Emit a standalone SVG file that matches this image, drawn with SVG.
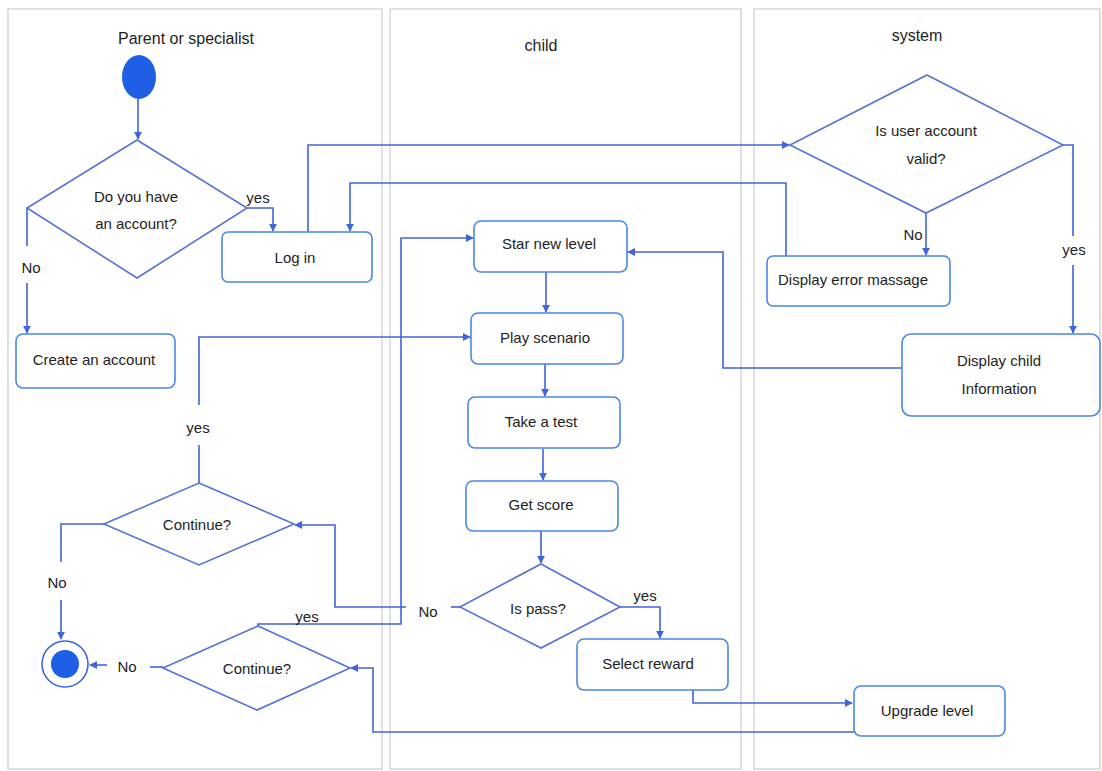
<svg xmlns="http://www.w3.org/2000/svg" width="1102" height="771" viewBox="0 0 1102 771">
  <style>
    text { font-family: "Liberation Sans", Arial, sans-serif; fill: #1e1e1e; font-size: 15px; text-anchor: middle; }
    .title { font-size: 16px; }
    .lane { fill: #ffffff; stroke: #d6d6d6; stroke-width: 1.5; }
    .box { fill: #ffffff; stroke: #4a86e4; stroke-width: 1.6; }
    .dia { fill: #ffffff; stroke: #5472d8; stroke-width: 1.6; }
    .conn { fill: none; stroke: #3f64dc; stroke-width: 1.6; }
  </style>
  <defs>
    <marker id="arrow" viewBox="0 0 10 10" refX="9" refY="5" markerWidth="8" markerHeight="8" markerUnits="userSpaceOnUse" orient="auto">
      <path d="M0,0 L10,5 L0,10 z" fill="#3f64dc"/>
    </marker>
  </defs>

  <rect width="1102" height="771" fill="#ffffff"/>

  <!-- swimlanes -->
  <g id="lanes">
    <rect class="lane" x="8" y="9" width="374" height="760"/>
    <rect class="lane" x="390" y="9" width="351" height="760"/>
    <rect class="lane" x="754" y="9" width="346" height="760"/>
    <text class="title" x="186" y="44">Parent or specialist</text>
    <text class="title" x="541" y="51">child</text>
    <text class="title" x="917" y="41">system</text>
  </g>

  <!-- connectors -->
  <g id="connectors">
    <path class="conn" d="M138,99 L138,139" marker-end="url(#arrow)"/>
    <!-- has account: yes -->
    <path class="conn" d="M247,208 L273,208 L273,231" marker-end="url(#arrow)"/>
    <!-- has account: no -->
    <path class="conn" d="M27,208 L27,246"/>
    <path class="conn" d="M27,283 L27,333" marker-end="url(#arrow)"/>
    <!-- log in to validation -->
    <path class="conn" d="M308,232 L308,145 L789,145" marker-end="url(#arrow)"/>
    <!-- error back to log in -->
    <path class="conn" d="M786,256 L786,183 L350,183 L350,231" marker-end="url(#arrow)"/>
    <!-- validation: no -->
    <path class="conn" d="M926,213 L926,255" marker-end="url(#arrow)"/>
    <!-- validation: yes -->
    <path class="conn" d="M1063,145 L1073,145 L1073,236"/>
    <path class="conn" d="M1073,265 L1073,333" marker-end="url(#arrow)"/>
    <!-- child info to new level -->
    <path class="conn" d="M902,368 L723,368 L723,252 L628,252" marker-end="url(#arrow)"/>
    <!-- child sequence -->
    <path class="conn" d="M546,272 L546,312" marker-end="url(#arrow)"/>
    <path class="conn" d="M545,364 L545,396" marker-end="url(#arrow)"/>
    <path class="conn" d="M543,449 L543,480" marker-end="url(#arrow)"/>
    <path class="conn" d="M541,531 L541,563" marker-end="url(#arrow)"/>
    <!-- pass: yes -->
    <path class="conn" d="M620,607 L660,607 L660,638" marker-end="url(#arrow)"/>
    <!-- pass: no -->
    <path class="conn" d="M460,607 L451,607"/>
    <path class="conn" d="M406,607 L335,607 L335,525 L295,525" marker-end="url(#arrow)"/>
    <!-- reward to upgrade -->
    <path class="conn" d="M693,690 L693,703 L852,703" marker-end="url(#arrow)"/>
    <!-- upgrade to continue -->
    <path class="conn" d="M854,732 L373,732 L373,668 L351,668" marker-end="url(#arrow)"/>
    <!-- continue (upper): yes -->
    <path class="conn" d="M199,483 L199,445"/>
    <path class="conn" d="M199,405 L199,337 L470,337" marker-end="url(#arrow)"/>
    <!-- continue (upper): no -->
    <path class="conn" d="M104,524 L61,524 L61,562"/>
    <path class="conn" d="M61,600 L61,639" marker-end="url(#arrow)"/>
    <!-- continue (lower): yes -->
    <path class="conn" d="M258,626 L258,624 L401,624 L401,238 L473,238" marker-end="url(#arrow)"/>
    <!-- continue (lower): no -->
    <path class="conn" d="M163,667 L150,667"/>
    <path class="conn" d="M107,665 L90,665" marker-end="url(#arrow)"/>
  </g>

  <!-- connector labels -->
  <g id="labels">
    <text x="258" y="203">yes</text>
    <text x="31" y="273">No</text>
    <text x="913" y="240">No</text>
    <text x="1074" y="255">yes</text>
    <text x="645" y="601">yes</text>
    <text x="428" y="617">No</text>
    <text x="307" y="622">yes</text>
    <text x="198" y="433">yes</text>
    <text x="57" y="588">No</text>
    <text x="127" y="672">No</text>
  </g>

  <g id="start">
    <ellipse cx="139" cy="77" rx="17" ry="22" fill="#1f5fe6"/>
  </g>

  <g id="has-account">
    <polygon class="dia" points="137,140 247,208 137,278 27,208"/>
    <text x="136" y="202">Do you have</text>
    <text x="136" y="229">an account?</text>
  </g>

  <g id="log-in">
    <rect class="box" x="222" y="232" width="150" height="50" rx="6"/>
    <text x="295" y="263">Log in</text>
  </g>

  <g id="create-account">
    <rect class="box" x="16" y="334" width="159" height="54" rx="7"/>
    <text x="94" y="365">Create an account</text>
  </g>

  <g id="account-valid">
    <polygon class="dia" points="927,75 1063,145 926,213 790,145"/>
    <text x="926" y="136">Is user account</text>
    <text x="926" y="164">valid?</text>
  </g>

  <g id="error-message">
    <rect class="box" x="767" y="256" width="183" height="50" rx="6"/>
    <text x="853" y="285">Display error massage</text>
  </g>

  <g id="child-info">
    <rect class="box" x="902" y="334" width="198" height="82" rx="9"/>
    <text x="999" y="366">Display child</text>
    <text x="999" y="394">Information</text>
  </g>

  <g id="new-level">
    <rect class="box" x="474" y="221" width="153" height="51" rx="7"/>
    <text x="549" y="249">Star new level</text>
  </g>

  <g id="play-scenario">
    <rect class="box" x="471" y="313" width="152" height="51" rx="7"/>
    <text x="545" y="343">Play scenario</text>
  </g>

  <g id="take-test">
    <rect class="box" x="468" y="397" width="152" height="51" rx="7"/>
    <text x="541" y="427">Take a test</text>
  </g>

  <g id="get-score">
    <rect class="box" x="466" y="481" width="152" height="50" rx="7"/>
    <text x="541" y="510">Get score</text>
  </g>

  <g id="is-pass">
    <polygon class="dia" points="541,564 620,607 541,648 460,607"/>
    <text x="538" y="614">Is pass?</text>
  </g>

  <g id="select-reward">
    <rect class="box" x="577" y="639" width="151" height="51" rx="7"/>
    <text x="648" y="669">Select reward</text>
  </g>

  <g id="upgrade-level">
    <rect class="box" x="854" y="686" width="151" height="50" rx="7"/>
    <text x="927" y="716">Upgrade level</text>
  </g>

  <g id="continue-upper">
    <polygon class="dia" points="199,483 294,524 199,565 104,524"/>
    <text x="197" y="530">Continue?</text>
  </g>

  <g id="continue-lower">
    <polygon class="dia" points="258,626 350,668 257,710 163,668"/>
    <text x="257" y="674">Continue?</text>
  </g>

  <g id="end">
    <circle cx="65" cy="664" r="23" fill="#ffffff" stroke="#3f64dc" stroke-width="1.6"/>
    <circle cx="65" cy="664" r="14" fill="#1f5fe6"/>
  </g>
</svg>
